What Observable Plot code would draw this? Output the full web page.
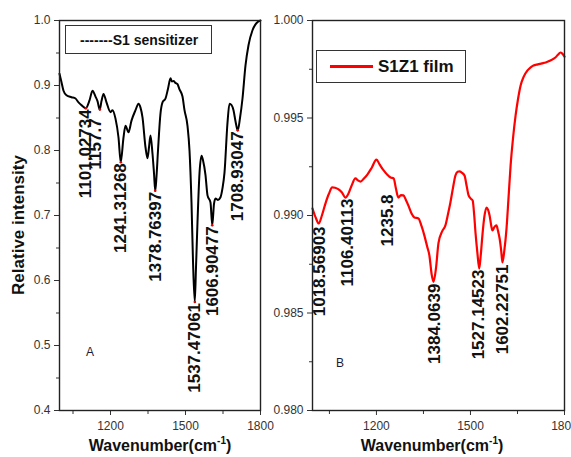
<!DOCTYPE html>
<html>
<head>
<meta charset="utf-8">
<script src="https://cdn.jsdelivr.net/npm/d3@7"></script>
<script src="https://cdn.jsdelivr.net/npm/@observablehq/plot@0.6"></script>
<style>
  html, body { margin: 0; padding: 0; background: #fff; overflow: hidden; }
  #wrap { position: relative; width: 571px; height: 457px; overflow: hidden; font-family: "Liberation Sans", Arial, sans-serif; color: #222; }
  .pl { position: absolute; top: 0; }
  .abs { position: absolute; white-space: nowrap; }
  .title { font-weight: bold; font-size: 16px; color: #111; }
  .legend { position: absolute; border: 1px solid #333; background: #fff; box-sizing: border-box; display: flex; align-items: center; }
  sup { font-size: 10px; }
</style>
</head>
<body>
<div id="wrap"></div>
<script>
// ---------- Data: S1 sensitizer (panel A) ----------
const s1Wavenumber = [996,1004,1012,1024,1044,1060,1072,1086,1101,1116,1128,1140,1148,1157,1164,1172,1184,1200,1208,1220,1232,1241,1252,1260,1272,1284,1300,1312,1320,1328,1340,1348,1354,1360,1368,1374,1379,1384,1390,1400,1408,1420,1430,1440,1446,1452,1460,1468,1476,1488,1496,1508,1516,1524,1530,1537,1542,1548,1556,1564,1570,1580,1588,1600,1607,1614,1620,1630,1640,1648,1656,1668,1676,1684,1692,1700,1709,1718,1728,1740,1752,1768,1780,1790,1800];
const s1Intensity  = [0.918,0.905,0.892,0.885,0.882,0.880,0.874,0.869,0.865,0.877,0.892,0.883,0.876,0.863,0.876,0.887,0.874,0.859,0.862,0.849,0.820,0.782,0.820,0.838,0.828,0.846,0.862,0.872,0.866,0.851,0.805,0.788,0.805,0.823,0.795,0.765,0.738,0.760,0.800,0.857,0.874,0.880,0.895,0.911,0.906,0.907,0.904,0.902,0.894,0.883,0.862,0.838,0.800,0.720,0.630,0.567,0.620,0.690,0.765,0.792,0.785,0.762,0.731,0.720,0.685,0.718,0.726,0.724,0.728,0.742,0.766,0.843,0.872,0.870,0.862,0.845,0.831,0.850,0.880,0.931,0.962,0.985,0.994,0.998,1.000];

const s1PeakLabels = ["1101.02734","1157.7","1241.31268","1378.76397","1537.47061","1606.90477","1708.93047"];
const s1PeakY      = [0.865, 0.851, 0.782, 0.738, 0.567, 0.685, 0.831];
const s1DotY       = [0.865, 0.863, 0.782, 0.738, 0.567, 0.685, 0.831];

// ---------- Data: S1Z1 film (panel B) ----------
const filmWavenumber = [996,1006,1016,1026,1037,1048,1059,1068,1078,1090,1101,1110,1120,1133,1141,1149,1160,1171,1185,1200,1210,1223,1234,1245,1255,1262,1270,1278,1286,1294,1302,1312,1321,1334,1344,1353,1362,1369,1376,1382,1390,1398,1410,1420,1428,1436,1444,1452,1459,1465,1472,1481,1488,1494,1502,1507,1512,1516,1522,1528,1533,1538,1544,1551,1556,1561,1566,1570,1576,1583,1588,1593,1598,1602,1608,1615,1621,1628,1636,1644,1652,1660,1670,1682,1692,1701,1715,1728,1740,1755,1771,1780,1787,1793,1800];
const filmIntensity  = [0.99036,0.98990,0.98959,0.99000,0.99060,0.99110,0.99144,0.99142,0.99135,0.99118,0.99092,0.99110,0.99150,0.99190,0.99180,0.99174,0.99190,0.99210,0.99245,0.99287,0.99262,0.99231,0.99210,0.99195,0.99190,0.99140,0.99092,0.99105,0.99103,0.99080,0.99051,0.99010,0.98990,0.98985,0.98945,0.98897,0.98840,0.98795,0.98700,0.98660,0.98730,0.98860,0.98920,0.98949,0.99005,0.99067,0.99140,0.99205,0.99224,0.99226,0.99220,0.99205,0.99150,0.99103,0.99085,0.99077,0.99000,0.98913,0.98810,0.98728,0.98800,0.98897,0.98990,0.99041,0.99030,0.99000,0.98950,0.98923,0.98940,0.98949,0.98920,0.98882,0.98820,0.98759,0.98820,0.98933,0.99080,0.99256,0.99400,0.99513,0.99600,0.99667,0.99712,0.99744,0.99760,0.99769,0.99775,0.99780,0.99785,0.99795,0.99810,0.99826,0.99836,0.99830,0.99815];

const filmPeakLabels = ["1018.56903","1106.40113","1235.8","1384.0639","1527.14523","1602.22751"];
const filmPeakY      = [0.98949, 0.99092, 0.99113, 0.98656, 0.98728, 0.98754];

// ---------- Ticks ----------
const xMajor = [1200, 1500, 1800];
const xMinor = [1050, 1350, 1650];
const yMajorA = [0.4, 0.5, 0.6, 0.7, 0.8, 0.9, 1.0];
const yMinorA = [0.45, 0.55, 0.65, 0.75, 0.85, 0.95];
const yMajorB = [0.980, 0.985, 0.990, 0.995, 1.000];
const yMinorB = [0.9825, 0.9875, 0.9925, 0.9975];

const s1 = s1Wavenumber.map((x, i) => ({x, y: s1Intensity[i]}));
const film = filmWavenumber.map((x, i) => ({x, y: filmIntensity[i]}));
const s1Peaks = s1PeakLabels.map((t, i) => ({t, x: +t, y: s1PeakY[i], dy: s1DotY[i]}));
const filmPeaks = filmPeakLabels.map((t, i) => ({t, x: +t, y: filmPeakY[i]}));

const font = "'Liberation Sans', Arial, sans-serif";
const common = {
  height: 457, marginTop: 20, marginBottom: 47,
  style: {overflow: "visible", background: "transparent", fontFamily: font, fontSize: "12px", color: "#333"},
  x: {domain: [996, 1800], label: null}
};
const labelFont = {fontFamily: font, fontSize: 17, fontWeight: "bold", fill: "#111"};

function axes(yMajor, yMinor, fmt) {
  return [
    Plot.axisY({ticks: yMajor, tickSize: 5, tickPadding: 4, tickFormat: fmt, label: null, fontSize: 12}),
    Plot.axisY({ticks: yMinor, tickSize: 3, tickFormat: () => "", label: null}),
    Plot.axisX({ticks: xMajor, tickSize: 5, tickPadding: 6, tickFormat: "d", label: null, fontSize: 12}),
    Plot.axisX({ticks: xMinor, tickSize: 4, tickFormat: () => "", label: null})
  ];
}

const plotA = Plot.plot({
  ...common,
  width: 262, marginLeft: 59, marginRight: 2,
  y: {domain: [0.4, 1.0], label: null},
  marks: [
    ...axes(yMajorA, yMinorA, ".1f"),
    Plot.line(s1, {x: "x", y: "y", stroke: "#000", strokeWidth: 2, curve: "monotone-x"}),
    Plot.dot(s1Peaks, {x: "x", y: "dy", r: 1.3, fill: "#d00", stroke: null}),
    Plot.text(s1Peaks.filter(d => d.t !== "1157.7"), {x: "x", y: "y", text: "t", rotate: -90, textAnchor: "end", dy: 1, ...labelFont}),
    Plot.text(s1Peaks.filter(d => d.t === "1157.7"), {x: "x", y: "y", text: "t", rotate: -90, textAnchor: "end", dx: -4, dy: 1, ...labelFont}),
    Plot.frame({stroke: "#222", strokeWidth: 1.4})
  ]
});

const plotB = Plot.plot({
  ...common,
  width: 309, marginLeft: 50, marginRight: 7,
  y: {domain: [0.980, 1.000], label: null},
  marks: [
    ...axes(yMajorB, yMinorB, ".3f"),
    Plot.line(film, {x: "x", y: "y", stroke: "#ff0000", strokeWidth: 2.2, curve: "monotone-x"}),
    Plot.text(filmPeaks, {x: "x", y: "y", text: "t", rotate: -90, textAnchor: "end", dy: 1, ...labelFont}),
    Plot.frame({stroke: "#222", strokeWidth: 1.4})
  ]
});

const wrap = document.getElementById("wrap");
const dA = document.createElement("div"); dA.className = "pl"; dA.style.left = "0px"; dA.appendChild(plotA);
const dB = document.createElement("div"); dB.className = "pl"; dB.style.left = "262px"; dB.appendChild(plotB);
wrap.appendChild(dA); wrap.appendChild(dB);

function addHTML(html) { wrap.insertAdjacentHTML("beforeend", html); }
// axis titles
addHTML(`<div class="abs title" style="left:19px;top:225px;transform:translate(-50%,-50%) rotate(-90deg);font-size:17px;">Relative intensity</div>`);
addHTML(`<div class="abs title" style="left:160px;top:445px;transform:translate(-50%,-50%);font-size:16px;">Wavenumber(cm<sup>-1</sup>)</div>`);
addHTML(`<div class="abs title" style="left:432px;top:445px;transform:translate(-50%,-50%);font-size:16px;">Wavenumber(cm<sup>-1</sup>)</div>`);
// legends
addHTML(`<div class="legend" style="left:65px;top:25px;width:147px;height:29px;"><span style="margin-left:14px;font-weight:bold;font-size:14px;color:#111;">-------S1 sensitizer</span></div>`);
addHTML(`<div class="legend" style="left:316px;top:50px;width:150px;height:33px;"><span style="display:inline-block;margin-left:13px;width:43px;height:2.5px;background:#ff0000;"></span><span style="margin-left:5px;font-weight:bold;font-size:17px;color:#111;">S1Z1 film</span></div>`);
// panel letters
addHTML(`<div class="abs" style="left:90px;top:352px;transform:translate(-50%,-50%);font-size:12px;color:#1a1a3a;">A</div>`);
addHTML(`<div class="abs" style="left:340px;top:363px;transform:translate(-50%,-50%);font-size:12px;color:#1a1a3a;">B</div>`);
</script>
</body>
</html>
